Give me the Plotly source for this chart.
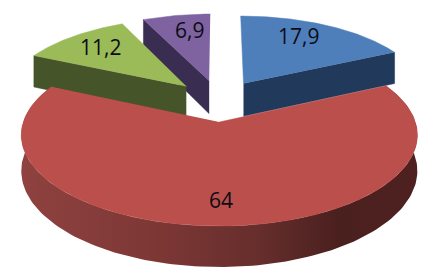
import numpy as np
import plotly.graph_objects as go

values = [17.9, 64, 11.2, 6.9]
labels = ["17,9", "64", "11,2", "6,9"]
top_colors = ["#4f7fbb", "#bb4f4b", "#9bbb59", "#7f63a1"]
side_colors = ["#213a5c", None, "#46542a", "#3a2d52"]
rim_scale = [[0, "#8f4240"], [0.35, "#7c3735"], [0.6, "#662e2c"], [0.8, "#4a201f"], [1, "#4e2120"]]
# fractions along each slice's mid radius and pixel nudges for the value labels
label_rho = [0.55, 0.55, 0.55, 0.55]
label_shift = [(6, -13), (1, 25), (-19, -10), (0, -12)]
slice_radius = [0.97, 1.0, 0.97, 0.97]

W, H = 447, 279
CX, CY = 219, 122
D, FX, FY, DEPTH = 7.0, 1372.0, 624.0, 246.0
EXPLODE = 0.25


def project(X, Y, z=0.0):
    X, Y = np.asarray(X, float), np.asarray(Y, float)
    w = D + Y
    return CX + FX * X / w, CY - FY * Y / w + z * DEPTH / w


fig = go.Figure()


def poly(xs, ys, **kw):
    fig.add_trace(go.Scatter(x=xs, y=ys, mode="lines", fill="toself", hoverinfo="skip",
                             showlegend=False, **kw))


edges = np.cumsum([0] + values) * 3.6
geo = []
for i, v in enumerate(values):
    a0, a1 = np.radians(edges[i]), np.radians(edges[i + 1])
    mid = (a0 + a1) / 2
    ox = EXPLODE * np.sin(mid)
    oy = EXPLODE * np.cos(mid) + EXPLODE
    geo.append((i, a0, a1, mid, ox, oy))

for i, a0, a1, mid, ox, oy in sorted(geo, key=lambda g: -g[5]):
    r = slice_radius[i]
    t = np.linspace(a0, a1, 160)
    ax, ay = ox + r * np.sin(t), oy + r * np.cos(t)
    if i == 1:
        tx, ty = project(ax, ay)
        bx, by = project(ax, ay, 1)
        fig.add_trace(go.Scatter(
            x=np.r_[tx, bx[::-1]], y=np.r_[ty, by[::-1]], mode="lines", fill="toself",
            line=dict(width=0), hoverinfo="skip", showlegend=False,
            fillgradient=dict(type="horizontal", colorscale=rim_scale)))
    else:
        e = a1 if mid < np.pi else a0
        ex, ey = ox + r * np.sin(e), oy + r * np.cos(e)
        x1, y1 = project([ox, ex], [oy, ey])
        x2, y2 = project([ex, ox], [ey, oy], 1)
        poly(np.r_[x1, x2], np.r_[y1, y2], fillcolor=side_colors[i],
             line=dict(color=side_colors[i], width=0.5))
    px, py = project(np.r_[ox, ax], np.r_[oy, ay])
    poly(px, py, fillcolor=top_colors[i], line=dict(color=top_colors[i], width=0.5))

annotations = []
for i, a0, a1, mid, ox, oy in geo:
    lx, ly = project(ox + label_rho[i] * np.sin(mid), oy + label_rho[i] * np.cos(mid))
    annotations.append(dict(x=float(lx), y=float(ly), text=labels[i], showarrow=False,
                            xshift=label_shift[i][0], yshift=-label_shift[i][1],
                            font=dict(family="Open Sans", size=21, color="#0c0c14")))

fig.update_layout(
    width=W, height=H, margin=dict(l=0, r=0, t=0, b=0),
    paper_bgcolor="white", plot_bgcolor="white", showlegend=False,
    xaxis=dict(range=[0, W], visible=False, fixedrange=True),
    yaxis=dict(range=[H, 0], visible=False, fixedrange=True),
    annotations=annotations,
)
fig.write_html("out.html", config={"displayModeBar": False},
               post_script="document.body.style.margin='0';document.documentElement.style.overflow='hidden';")
